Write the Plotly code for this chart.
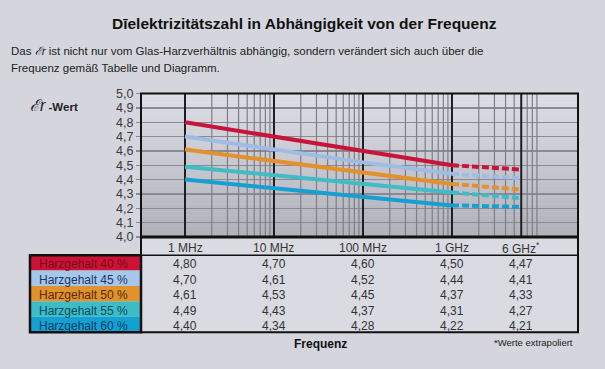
import math
import plotly.graph_objects as go

# ---------------- data ----------------
freq_hz = [1e6, 1e7, 1e8, 1e9, 6e9]
freq_labels = ["1 MHz", "10 MHz", "100 MHz", "1 GHz", "6 GHz<sup>*</sup>"]
series_names = ["Harzgehalt 40 %", "Harzgehalt 45 %", "Harzgehalt 50 %", "Harzgehalt 55 %", "Harzgehalt 60 %"]
harz40 = [4.80, 4.70, 4.60, 4.50, 4.47]
harz45 = [4.70, 4.61, 4.52, 4.44, 4.41]
harz50 = [4.61, 4.53, 4.45, 4.37, 4.33]
harz55 = [4.49, 4.43, 4.37, 4.31, 4.27]
harz60 = [4.40, 4.34, 4.28, 4.22, 4.21]
series_values = [harz40, harz45, harz50, harz55, harz60]
y_ticks = [4.0, 4.1, 4.2, 4.3, 4.4, 4.5, 4.6, 4.7, 4.8, 4.9, 5.0]
y_ticklabels = ["4,0", "4,1", "4,2", "4,3", "4,4", "4,5", "4,6", "4,7", "4,8", "4,9", "5,0"]
major_grid_hz = [1e6, 1e7, 1e8, 1e9, 6e9]
minor_grid_hz = [m * 10 ** e for e in (6, 7, 8) for m in range(2, 10)] + [2e9, 3e9, 4e9, 5e9, 7e9, 8e9, 9e9]

# ---------------- style ----------------
W, H = 605, 369
line_colors = ["#c8143a", "#9dbde6", "#e2912c", "#3fbcc6", "#16a0d2"]
cell_bg = ["#cc1236", "#a6c6ea", "#e0922c", "#3dbcc8", "#12a2d2"]
cell_fg = ["#7a0a1e", "#1c3766", "#5a2a06", "#0c4a5c", "#0d3a66"]
page_bg = "#d5d5dd"
FONT = "Liberation Sans, Arial, Helvetica"


def px(x):
    return x / W


def py(y):
    return 1 - y / H


PL, PR, PT, PB = 141, 578, 90, 239
TBL_HDR_B, TBL_B, LBL_L = 258, 338, 30

fig = go.Figure()


def vlines(freqs):
    xs, ys = [], []
    for f in freqs:
        xs += [f, f, None]
        ys += [4.0, 5.0, None]
    return xs, ys


mx, my = vlines(minor_grid_hz)
fig.add_trace(go.Scatter(x=mx, y=my, mode="lines", line=dict(color="#7e7e88", width=1.2),
                         hoverinfo="skip", showlegend=False))
Mx, My = vlines(major_grid_hz)
fig.add_trace(go.Scatter(x=Mx, y=My, mode="lines", line=dict(color="#1e1e22", width=2),
                         hoverinfo="skip", showlegend=False))

# data lines: solid up to 1 GHz, dashed (extrapolated) to 6 GHz
for name, vals, col in zip(series_names, series_values, line_colors):
    fig.add_trace(go.Scatter(x=freq_hz[:4], y=vals[:4], mode="lines",
                             line=dict(color=col, width=4), name=name,
                             showlegend=False, hoverinfo="skip"))
    fig.add_trace(go.Scatter(x=freq_hz[3:], y=vals[3:], mode="lines",
                             line=dict(color=col, width=4, dash="7px,3px"),
                             showlegend=False, hoverinfo="skip"))

shapes = []
# gradient background of plot area
n_bands = 40
top_c = (222, 222, 230)
bot_c = (176, 176, 186)
for i in range(n_bands):
    t = i / (n_bands - 1)
    c = tuple(round(bot_c[k] + (top_c[k] - bot_c[k]) * t) for k in range(3))
    shapes.append(dict(type="rect", xref="x domain", yref="y domain",
                       x0=0, x1=1, y0=i / n_bands, y1=(i + 1) / n_bands,
                       fillcolor="rgb(%d,%d,%d)" % c, line=dict(width=0), layer="below"))

# table body background
shapes.append(dict(type="rect", xref="paper", yref="paper", x0=px(PL), x1=px(PR),
                   y0=py(TBL_B), y1=py(PB), fillcolor="#dadae2", line=dict(width=0), layer="below"))
# label cells
row_h = (TBL_B - TBL_HDR_B) / len(series_names)
for i, bg in enumerate(cell_bg):
    shapes.append(dict(type="rect", xref="paper", yref="paper", x0=px(LBL_L), x1=px(PL),
                       y0=py(TBL_HDR_B + (i + 1) * row_h), y1=py(TBL_HDR_B + i * row_h),
                       fillcolor=bg, line=dict(width=0), layer="below"))
# borders
shapes.append(dict(type="rect", xref="paper", yref="paper", x0=px(LBL_L), x1=px(PL),
                   y0=py(TBL_B), y1=py(TBL_HDR_B), line=dict(color="#111", width=2.5)))
shapes.append(dict(type="rect", xref="paper", yref="paper", x0=px(PL), x1=px(PR),
                   y0=py(TBL_B), y1=py(PB), line=dict(color="#111", width=2)))
shapes.append(dict(type="line", xref="paper", yref="paper", x0=px(PL), x1=px(PR),
                   y0=py(TBL_HDR_B), y1=py(TBL_HDR_B), line=dict(color="#111", width=1.5)))
shapes.append(dict(type="rect", xref="x domain", yref="y domain", x0=0, x1=1, y0=0, y1=1,
                   line=dict(color="#111", width=2)))
shapes.append(dict(type="line", xref="x domain", yref="y domain", x0=0, x1=1, y0=0, y1=0,
                   line=dict(color="#111", width=3)))

ann = []
ann.append(dict(text="<b>Dīelektrizitätszahl in Abhängigkeit von der Frequenz</b>",
                x=px(304), y=py(17), xref="paper", yref="paper", showarrow=False,
                font=dict(family=FONT, size=15.5, color="#111"), xanchor="center", yanchor="middle"))
ann.append(dict(text="Das <i>ℰr</i> ist nicht nur vom Glas-Harzverhältnis abhängig, sondern verändert sich auch über die",
                x=px(9), y=py(46), xref="paper", yref="paper", showarrow=False,
                font=dict(family=FONT, size=11.5, color="#222"), xanchor="left", yanchor="middle"))
ann.append(dict(text="Frequenz gemäß Tabelle und Diagramm.",
                x=px(9), y=py(63), xref="paper", yref="paper", showarrow=False,
                font=dict(family=FONT, size=11.5, color="#222"), xanchor="left", yanchor="middle"))
ann.append(dict(text="<i><span style='font-size:16px'>ℰr</span></i> <b>-Wert</b>",
                x=px(28), y=py(102), xref="paper", yref="paper", showarrow=False,
                font=dict(family=FONT, size=11.5, color="#222"), xanchor="left", yanchor="middle"))
# header labels
for f, lab in zip(freq_hz, freq_labels):
    ann.append(dict(text=lab, x=math.log10(f), xref="x", y=py((PB + TBL_HDR_B) / 2 + 2), yref="paper",
                    showarrow=False, font=dict(family=FONT, size=12, color="#333"),
                    xanchor="center", yanchor="middle"))
# table rows
for i, (name, vals) in enumerate(zip(series_names, series_values)):
    yc = py(TBL_HDR_B + (i + 0.5) * row_h + 1.5)
    ann.append(dict(text=name, x=px(37), y=yc, xref="paper", yref="paper", showarrow=False,
                    font=dict(family=FONT, size=12, color=cell_fg[i]), xanchor="left", yanchor="middle"))
    for f, v in zip(freq_hz, vals):
        ann.append(dict(text=("%.2f" % v).replace(".", ","), x=math.log10(f), xref="x", y=yc, yref="paper",
                        showarrow=False, font=dict(family=FONT, size=12, color="#333"),
                        xanchor="center", yanchor="middle"))
ann.append(dict(text="<b>Frequenz</b>", x=px(320), y=py(350), xref="paper", yref="paper", showarrow=False,
                font=dict(family=FONT, size=12, color="#111"), xanchor="center", yanchor="middle"))
ann.append(dict(text="*Werte extrapoliert", x=px(533), y=py(349), xref="paper", yref="paper", showarrow=False,
                font=dict(family=FONT, size=9.5, color="#222"), xanchor="center", yanchor="middle"))

fig.update_layout(
    width=W, height=H, autosize=False,
    margin=dict(l=0, r=0, t=0, b=0),
    paper_bgcolor=page_bg, plot_bgcolor="#c8c8d0",
    showlegend=False,
    xaxis=dict(type="log", range=[5.5056, 10.416], domain=[px(PL), px(PR)],
               showgrid=False, showticklabels=False, ticks="", zeroline=False, showline=False),
    yaxis=dict(range=[4.0, 5.0], domain=[py(PB), py(PT)], tickvals=y_ticks, ticktext=y_ticklabels,
               ticks="outside", ticklen=4, tickcolor="#8a8a92", tickwidth=1.2,
               showgrid=True, gridcolor="#8a8a94", gridwidth=1.2, zeroline=False, showline=False,
               tickfont=dict(family=FONT, size=12.5, color="#3a3a3a")),
    shapes=shapes,
    annotations=ann,
)

fig.write_html("out.html", config={"displayModeBar": False, "staticPlot": True},
               post_script="document.body.style.margin='0';document.body.style.background='%s';" % page_bg)
